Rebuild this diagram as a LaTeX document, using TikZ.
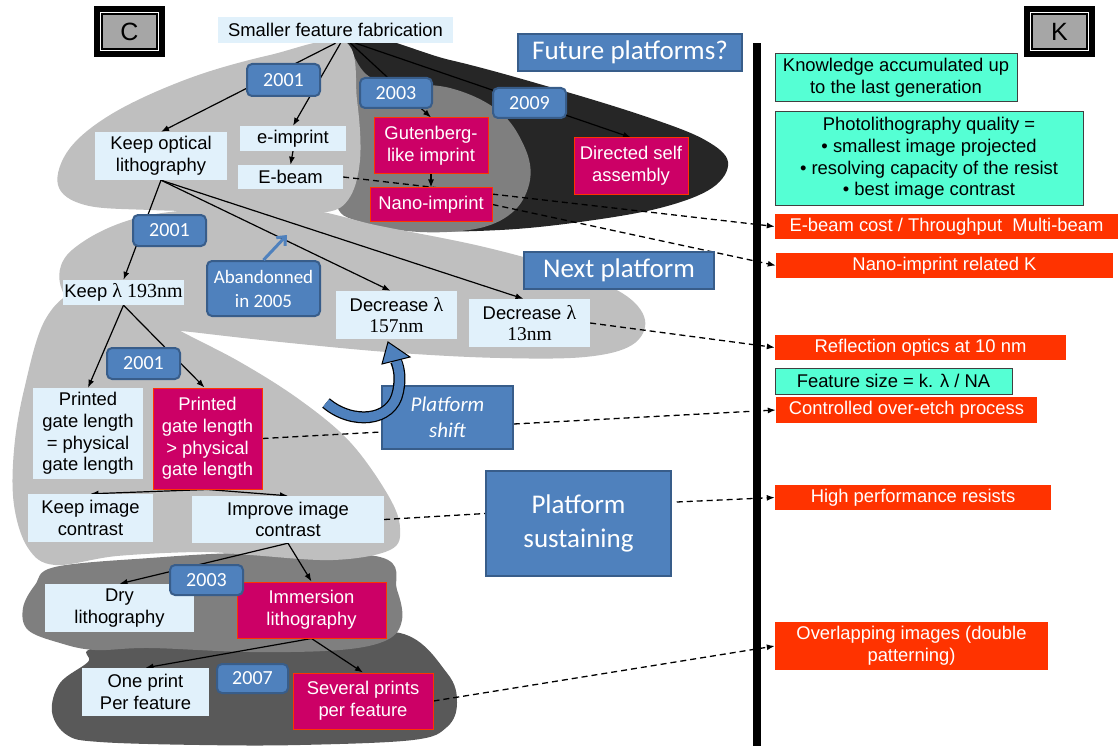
\documentclass[tikz,border=0pt]{standalone}
\usepackage{fontspec}
\setmainfont{Liberation Sans}
\newfontfamily\calfont{Carlito}
\newfontfamily\tmsfont{Liberation Serif}
\usetikzlibrary{arrows.meta}
\definecolor{lgray}{HTML}{BFBFBF}
\definecolor{mgray}{HTML}{7F7F7F}
\definecolor{dgray}{HTML}{595959}
\definecolor{bgray}{HTML}{262626}
\definecolor{lblue}{HTML}{E1F1FB}
\definecolor{mag}{HTML}{CC0066}
\definecolor{redk}{HTML}{FF3300}
\definecolor{bblue}{HTML}{4F81BD}
\definecolor{bborder}{HTML}{385D8A}
\definecolor{tealk}{HTML}{55FFD4}
\definecolor{cgray}{HTML}{A6A6A6}
\newcommand\fsn{\fontsize{18.4}{21.7}\selectfont}
\newcommand\fsc{\calfont\fontsize{20}{24}\selectfont}
\pgfdeclarelayer{blobs}
\pgfdeclarelayer{lines}
\pgfsetlayers{blobs,lines,main}
\tikzset{
  lb/.style={fill=lblue, inner sep=0pt, align=center, font=\fsn},
  mg/.style={fill=mag, draw=redk, line width=1pt, text=white, align=center, font=\fsn, inner sep=0pt},
  bd/.style={fill=bblue, draw=bborder, line width=2pt, rounded corners=5pt, text=white, align=center, font=\fsc, inner sep=0pt},
  bx/.style={fill=bblue, draw=bborder, line width=1.5pt, text=white, align=center, inner sep=0pt},
  tl/.style={fill=tealk, draw=black!75, line width=1pt, align=center, font=\fsn, inner sep=0pt},
  kr/.style={fill=redk, text=white, align=center, font=\fsn, inner sep=0pt},
  conn/.style={line width=1.2pt, -{Latex[length=8pt,width=6pt]}},
  dsh/.style={line width=1.3pt, dash pattern=on 6pt off 4pt},
  dsha/.style={dsh, -{Latex[length=8pt,width=6pt]}},
  ck/.style={fill=cgray, draw=black, line width=9pt, minimum width=62pt, minimum height=42pt, font=\fontsize{25}{30}\selectfont, inner sep=0pt}
}
\begin{document}
\begin{tikzpicture}[x=1pt,y=-1pt]
\useasboundingbox (0,0) rectangle (1118,746);

% ---------------- blobs ----------------
\begin{pgfonlayer}{blobs}
\fill[bgray] plot[smooth cycle, tension=0.6] coordinates {(345,40) (450,60) (560,90) (650,118) (705,140) (728,162) (712,188) (660,208) (580,222) (500,230) (420,230) (360,215) (340,150)};
\fill[mgray] plot[smooth cycle, tension=0.6] coordinates {(345,43) (372,78) (450,88) (500,112) (525,148) (530,180) (515,210) (480,228) (420,232) (360,222) (336,200) (348,120)};
\fill[dgray] plot[smooth cycle, tension=0.6] coordinates {(95,648) (200,640) (300,640) (400,633) (447,673) (457,703) (447,727) (413,740) (300,745) (200,745) (100,742) (67,735) (52,712) (60,683) (88,662)};
\fill[mgray] plot[smooth cycle, tension=0.6] coordinates {(55,567) (150,558) (250,553) (380,557) (397,590) (402,620) (387,640) (340,650) (250,652) (150,648) (95,650) (60,643) (28,630) (23,608) (35,585)};
% light gray: top teardrop
\fill[lgray] plot[smooth cycle, tension=0.6] coordinates {(345,42) (357,100) (360,160) (348,200) (320,213) (250,212) (150,210) (85,205) (58,185) (70,148) (115,112) (190,78) (270,55)};
% next platform blob
\fill[lgray] plot[smooth cycle, tension=0.6] coordinates {(72,250) (150,215) (290,208) (380,226) (480,246) (560,268) (622,293) (645,320) (632,345) (585,357) (500,358) (400,353) (300,344) (200,333) (100,320) (62,290)};
% big lower blob
\fill[lgray] plot[smooth cycle, tension=0.6] coordinates {(175,328) (240,362) (300,400) (350,442) (388,495) (400,528) (390,550) (333,560) (250,555) (200,552) (117,556) (55,565) (28,548) (14,505) (14,450) (24,390) (45,320) (80,290) (130,300)};
\end{pgfonlayer}

% ---------------- C and K ----------------
\node[ck] (cbox) at (129.5,31.5) {C};
\draw[white, line width=1pt] (100.5,12.5) rectangle (158.5,50.5);
\node[ck] (kbox) at (1059.5,31.5) {K};
\draw[white, line width=1pt] (1030.5,12.5) rectangle (1088.5,50.5);

% ---------------- vertical bar ----------------
\fill[black] (753,43) rectangle (761,746);

% ---------------- nodes ----------------
\node[lb, minimum width=235pt, minimum height=26pt] (smaller) at (335.5,30) {Smaller feature fabrication};
\node[lb, minimum width=132pt, minimum height=48pt] (keepopt) at (161,156) {Keep optical\\lithography};
\node[lb, minimum width=106pt, minimum height=25pt] (eimprint) at (293,138.5) {e-imprint};
\node[lb, minimum width=105pt, minimum height=24pt] (ebeam) at (290.5,177) {E-beam};
\node[lb, minimum width=121pt, minimum height=25pt] (keeplam) at (123.5,292.5) {Keep {\tmsfont\fontsize{20}{22}\selectfont λ 193nm}};
\node[lb, minimum width=121pt, minimum height=48pt] (dec157) at (396.5,315) {Decrease {\tmsfont\fontsize{20}{22}\selectfont λ}\\{\tmsfont\fontsize{19.5}{22}\selectfont 157nm}};
\node[lb, minimum width=121pt, minimum height=48pt] (dec13) at (529.5,323) {Decrease {\tmsfont\fontsize{20}{22}\selectfont λ}\\{\tmsfont\fontsize{19.5}{22}\selectfont 13nm}};
\node[lb, minimum width=110pt, minimum height=91pt] (printeq) at (88,433.5) {Printed\\gate length\\= physical\\gate length};
\node[lb, minimum width=125pt, minimum height=48pt] (keepimg) at (90.5,518) {Keep image\\contrast};
\node[lb, minimum width=192pt, minimum height=47pt] (improve) at (288,519.5) {Improve image\\contrast};
\node[lb, minimum width=149pt, minimum height=48pt] (dry) at (119.5,608) {Dry\\lithography};
\node[lb, minimum width=127pt, minimum height=48pt] (oneprint) at (145.5,692) {One print\\Per feature};

\node[mg, minimum width=114pt, minimum height=56pt] (gutenberg) at (431,146) {Gutenberg-\\like imprint};
\node[mg, minimum width=122pt, minimum height=33pt] (nano) at (431,204.5) {Nano-imprint};
\node[mg, minimum width=114pt, minimum height=56pt] (directed) at (631,166) {Directed self\\assembly};
\node[mg, minimum width=109pt, minimum height=101pt] (printgt) at (207.5,438.5) {Printed\\gate length\\ > physical\\gate length};
\node[mg, minimum width=149pt, minimum height=56pt] (immersion) at (311.5,610) {Immersion\\lithography};
\node[mg, minimum width=140pt, minimum height=56pt] (several) at (363,701) {Several prints\\per feature};

\node[bd, minimum width=73pt, minimum height=32pt] (b2001a) at (283.5,80) {2001};
\node[bd, minimum width=72pt, minimum height=30pt] (b2003a) at (396,93) {2003};
\node[bd, minimum width=73pt, minimum height=30pt] (b2009) at (529.5,103) {2009};
\node[bd, minimum width=73pt, minimum height=31pt] (b2001b) at (169.5,230.5) {2001};
\node[bd, minimum width=73pt, minimum height=31pt] (b2001c) at (143.5,363.5) {2001};
\node[bd, minimum width=113pt, minimum height=55pt, font=\calfont\fontsize{19}{24}\selectfont] (abandon) at (263.5,288.5) {Abandonned\\in 2005};
\node[bd, minimum width=73pt, minimum height=30pt] (b2003b) at (206.5,580) {2003};
\node[bd, minimum width=71pt, minimum height=29pt] (b2007) at (252.5,678.5) {2007};

\node[bx, minimum width=224pt, minimum height=37pt, font=\calfont\fontsize{27}{30}\selectfont] (future) at (630,52.5) {Future platforms?};
\node[bx, minimum width=190pt, minimum height=37pt, font=\calfont\fontsize{27}{30}\selectfont] (next) at (619,270.5) {Next platform};
\node[bx, minimum width=131pt, minimum height=63pt, font=\calfont\itshape\fontsize{21}{26}\selectfont] (shift) at (447.5,417.5) {Platform\\shift};
\node[bx, minimum width=185pt, minimum height=105pt, font=\calfont\fontsize{27}{34}\selectfont] (sustain) at (578.5,523.5) {Platform\\sustaining};

\node[tl, minimum width=242pt, minimum height=48pt] (know) at (896,78) {Knowledge accumulated up\\to the last generation};
\node[tl, minimum width=308pt, minimum height=93pt] (photo) at (929,158.5) {Photolithography quality =\\• smallest image projected\\• resolving capacity of the resist\\• best image contrast};
\node[tl, minimum width=237pt, minimum height=26pt] (feat) at (893.5,381) {Feature size = k. λ / NA};

\node[kr, minimum width=343pt, minimum height=25pt] (kebeam) at (946.5,226.5) {E-beam cost / Throughput~ Multi-beam};
\node[kr, minimum width=337pt, minimum height=25pt] (knano) at (944.5,265.5) {Nano-imprint related K};
\node[kr, minimum width=291pt, minimum height=25pt] (krefl) at (920.5,347.5) {Reflection optics at 10 nm};
\node[kr, minimum width=261pt, minimum height=26pt] (kctrl) at (906.5,410) {Controlled over-etch process};
\node[kr, minimum width=276pt, minimum height=25pt] (khigh) at (913,497.5) {High performance resists};
\node[kr, minimum width=273pt, minimum height=48pt] (koverlap) at (911.5,646) {Overlapping images (double\\patterning)};

\coordinate (abtip) at (287,235);

% ---------------- connectors ----------------
\begin{pgfonlayer}{lines}
\draw[conn] (smaller.south) -- (keepopt.north);
\draw[conn] ([xshift=5pt]smaller.south) -- (eimprint.north);
\draw[conn] (eimprint.south) -- (ebeam.north);
\draw[conn] ([xshift=15pt]smaller.south) -- (gutenberg.north);
\draw[conn] ([xshift=20pt]smaller.south) -- (directed.north);
\draw[conn] (gutenberg.south) -- (nano.north);
\draw[conn] (keepopt.south) -- (keeplam.north);
\draw[conn] (keepopt.south) -- ([xshift=-6pt]dec157.north);
\draw[conn] (keepopt.south) -- ([xshift=-6pt]dec13.north);
\draw[conn] (keeplam.south) -- (printeq.north);
\draw[conn] (keeplam.south) -- ([xshift=-3pt]printgt.north);
\draw[conn] (printgt.south) -- (keepimg.north);
\draw[conn] (printgt.south) -- (improve.north);
\draw[conn] (improve.south) -- (dry.north);
\draw[conn] (improve.south) -- (immersion.north);
\draw[conn] (immersion.south) -- (oneprint.north);
\draw[conn] (immersion.south) -- (several.north);

\draw[dsha] (ebeam.east) -- (kebeam.west);
\draw[dsha] (nano.east) -- (knano.west);
\draw[dsha] (dec13.east) -- (krefl.west);
\draw[dsh] (printgt.east) -- ([yshift=-14.5pt]shift.west);
\draw[dsha] ([yshift=-6.5pt]shift.east) -- (kctrl.west);
\draw[dsh] (improve.east) -- ([yshift=10pt]sustain.west);
\draw[dsha] ([xshift=5pt,yshift=21.5pt]sustain.east) -- (khigh.west);
\draw[dsha] (several.east) -- (koverlap.west);
\end{pgfonlayer}

% blue arrow from abandon badge
\draw[bblue, line width=3pt, -{Straight Barb[length=7pt,width=12pt]}] (abandon.north) -- (abtip);

% curved block arrow (platform shift)
\draw[black, line width=12pt] (326,403) .. controls (352,425) and (392,422) .. (398,392) .. controls (401,378) and (399,368) .. (396,361);
\draw[bblue, line width=9.5pt] (326,403) .. controls (352,425) and (392,422) .. (398,392) .. controls (401,378) and (399,368) .. (396,360);
\filldraw[fill=bblue, draw=black, line width=1pt] (382,364) -- (388,342) -- (410,357) -- cycle;
\end{tikzpicture}
\end{document}
